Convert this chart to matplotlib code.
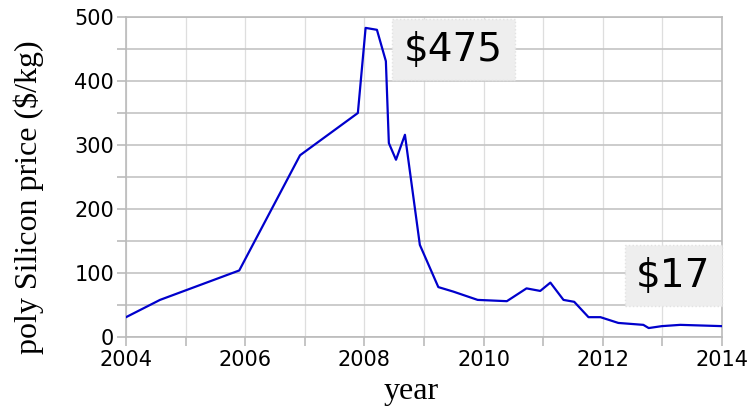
import numpy as np
import matplotlib.pyplot as plt
from matplotlib.ticker import MultipleLocator

# poly silicon spot price
years = [2004.0, 2004.57, 2005.9, 2006.92, 2007.89, 2008.02, 2008.21, 2008.36,
         2008.41, 2008.53, 2008.68, 2008.93, 2009.24, 2009.49, 2009.9, 2010.39,
         2010.72, 2010.95, 2011.12, 2011.34, 2011.52, 2011.76, 2011.96, 2012.26,
         2012.68, 2012.77, 2012.99, 2013.3, 2014.0]
price = [31, 58, 104, 284, 350, 483, 480, 431,
         303, 277, 316, 144, 78, 71, 58, 56,
         76, 72, 85, 58, 55, 31, 31, 22,
         19, 14, 17, 19, 17]
labels = ["$475", "$17"]

fig = plt.figure(figsize=(7.51, 4.12), dpi=100)
ax = fig.add_axes([0.1678, 0.182, 0.7936, 0.7767])

ax.plot(years, price, color="#0000cc", lw=1.6, zorder=3)

ax.set_xlim(2004, 2014)
ax.set_ylim(0, 500)
ax.xaxis.set_major_locator(MultipleLocator(2))
ax.xaxis.set_minor_locator(MultipleLocator(1))
ax.yaxis.set_major_locator(MultipleLocator(100))
ax.yaxis.set_minor_locator(MultipleLocator(50))

ax.grid(axis="y", which="both", color="#c4c4c4", lw=1.2, zorder=0)
ax.grid(axis="x", which="both", color="#dedede", lw=0.9, zorder=0)

for s in ax.spines.values():
    s.set_color("#bbbbbb")
    s.set_linewidth(1.2)
ax.tick_params(which="both", color="#bbbbbb", length=6.5, width=1.2,
               labelsize=15)
ax.tick_params(axis="x", pad=3)
ax.tick_params(axis="y", pad=2)

ax.set_xlabel("year", family="Liberation Serif", fontsize=23)
ax.set_ylabel("poly Silicon price ($/kg)", family="Liberation Serif",
              fontsize=23)
ax.xaxis.set_label_coords(0.478, -0.125)
ax.yaxis.set_label_coords(-0.138, 0.4375)

box = dict(boxstyle="square,pad=0.3", fc="#eeeeee", ec="#e2e2e2", ls=":")
ax.text(0.5495, 0.898, labels[0], transform=ax.transAxes, ha="center",
        va="center", fontsize=28, bbox=box, zorder=4)
ax.text(0.9186, 0.192, labels[1], transform=ax.transAxes, ha="center",
        va="center", fontsize=28, bbox=box, zorder=4)

fig.savefig("out.png", dpi=100)
